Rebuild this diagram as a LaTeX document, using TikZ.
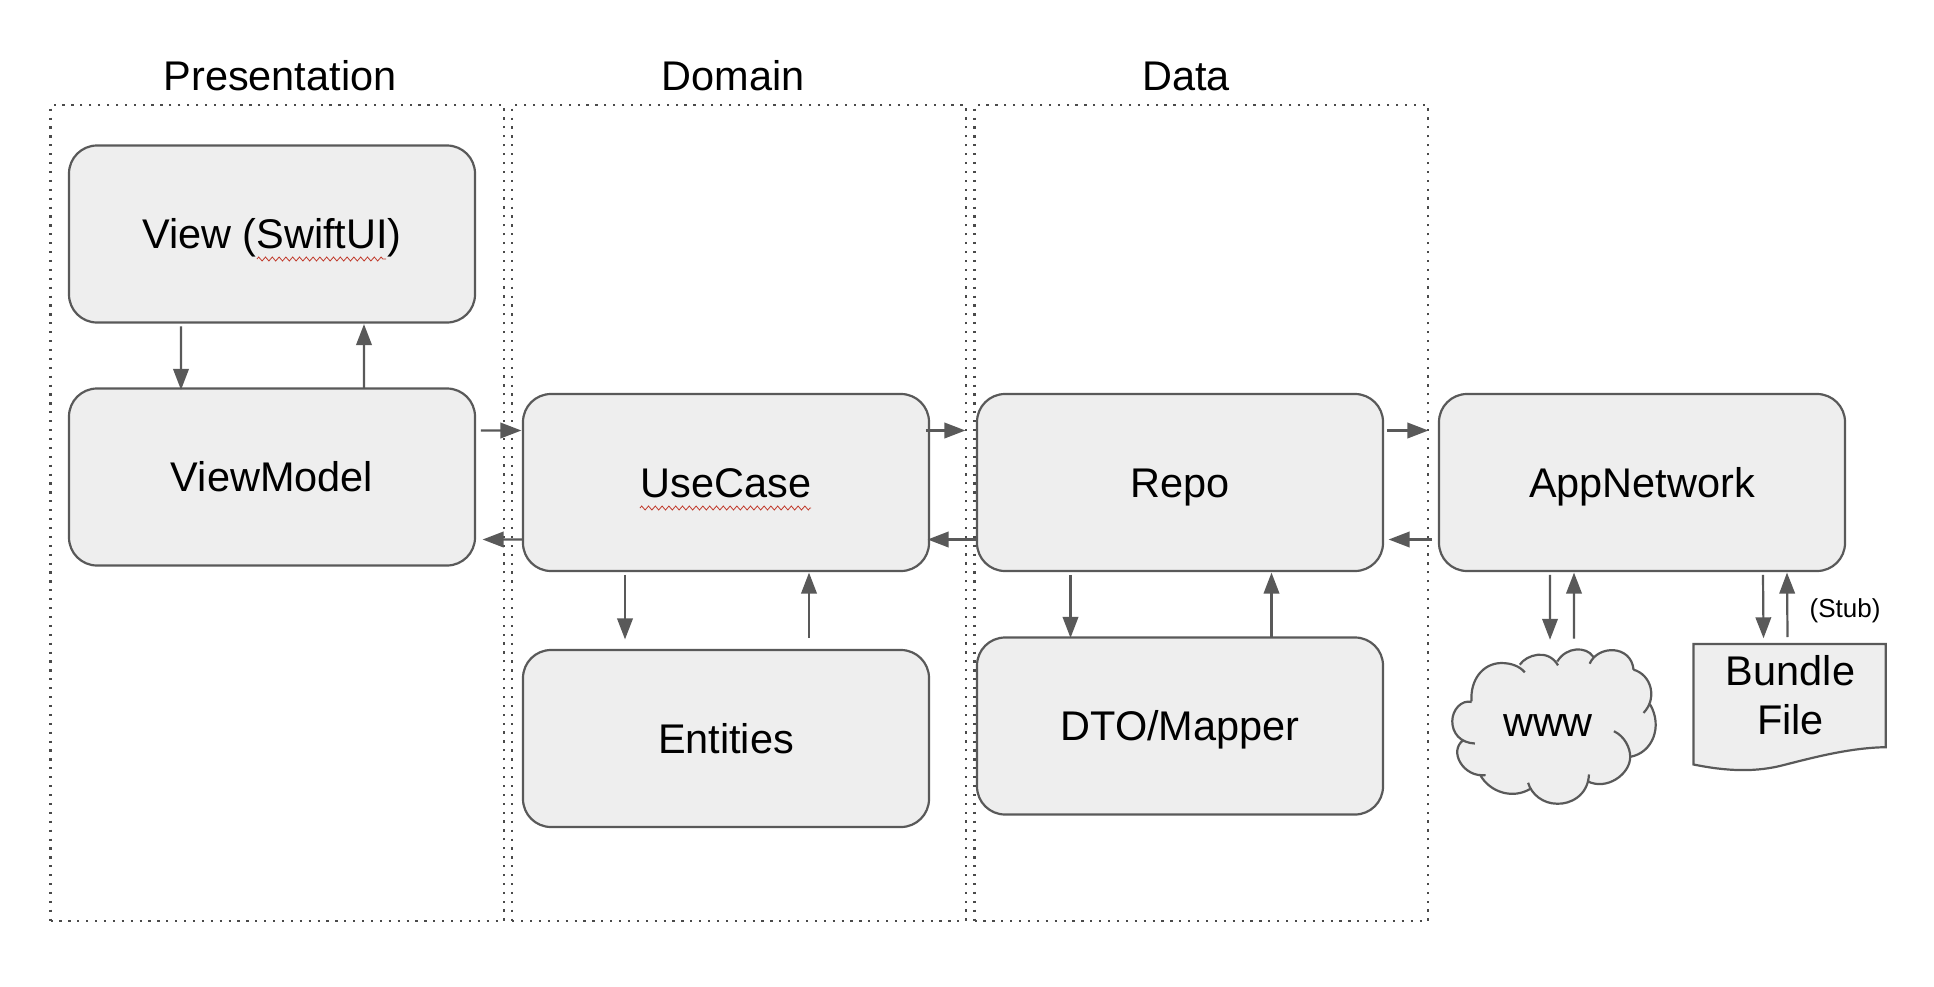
\documentclass[tikz,border=0pt]{standalone}
\usepackage{fontspec}
\setmainfont{Liberation Sans}
\usepackage{xcolor}
\usetikzlibrary{arrows.meta,decorations.pathmorphing}
\definecolor{boxFill}{HTML}{EEEEEE}
\definecolor{boxLine}{HTML}{595959}
\definecolor{dotLine}{HTML}{4A4A4A}
\definecolor{spellRed}{HTML}{C0392B}
\tikzset{
  layer/.style={draw=dotLine, line width=0.022cm, dash pattern=on 0.022cm off 0.067cm, minimum width=4.535cm, minimum height=8.16cm},
  title/.style={font=\bodysize, text height=0.29cm, text depth=0pt, inner sep=0pt},
  block/.style={draw=boxLine, line width=0.022cm, rounded corners=0.28cm, fill=boxFill, minimum width=4.06cm, minimum height=1.77cm, font=\bodysize, text height=0.29cm, text depth=0pt, inner sep=0pt},
  shapeline/.style={draw=boxLine, line width=0.022cm},
  flow/.style={-{Triangle[length=2.1mm,width=1.55mm]}, draw=boxLine, fill=boxLine, line width=0.022cm, shorten >=-0.025cm, shorten <=-0.012cm},
  spell/.style={draw=spellRed, line width=0.008cm, decorate, decoration={zigzag, segment length=0.068cm, amplitude=0.02cm}}
}
\newcommand{\bodysize}{\fontsize{11.8pt}{13.9pt}\selectfont}
\newcommand{\cloudlobes}{
  (155,545) .. controls (150,480) and (190,430) .. (245,430) .. controls (275,430) and (300,440) .. (315,458)
  (300,435) .. controls (320,405) and (385,385) .. (415,437)
  (413,425) .. controls (440,380) and (500,380) .. (520,410)
  (510,432) .. controls (535,375) and (635,375) .. (642,450)
  (642,450) .. controls (695,465) and (715,535) .. (672,580)
  (692,555) .. controls (730,620) and (700,700) .. (632,712)
  (583,635) .. controls (615,650) and (632,685) .. (632,712) .. controls (632,765) and (560,815) .. (503,785)
  (508,765) .. controls (505,830) and (450,855) .. (412,853) .. controls (370,853) and (335,825) .. (325,790)
  (332,808) .. controls (280,840) and (210,820) .. (180,765)
  (197,767) .. controls (130,775) and (85,695) .. (130,662)
  (165,672) .. controls (120,670) and (97,640) .. (97,605) .. controls (97,570) and (125,540) .. (155,547)
}
\begin{document}
\begin{tikzpicture}[x=1cm,y=1cm]
  \useasboundingbox (0,0) rectangle (19.34,9.86);

  % layers
  \node[title] (presentationTitle) at (2.80,9.10) {Presentation};
  \node[title] (domainTitle) at (7.33,9.10) {Domain};
  \node[title] (dataTitle) at (11.86,9.10) {Data};
  \node[layer] (presentation) at (2.7725,4.73) {};
  \node[layer] (domain) at (7.39,4.73) {};
  \node[layer] (data) at (12.0125,4.73) {};

  \node[block] (view) at (2.72,7.52) {View (SwiftUI)};
  \node[block] (viewModel) at (2.72,5.09) {ViewModel};
  \node[block] (useCase) at (7.26,5.035) {UseCase};
  \node[block] (entities) at (7.26,2.475) {Entities};
  \node[block] (repo) at (11.80,5.035) {Repo};
  \node[block] (dtoMapper) at (11.80,2.60) {DTO/Mapper};
  \node[block] (appNetwork) at (16.42,5.035) {AppNetwork};

  % spell check marks
  \draw[spell] (2.57,7.27) -- (3.86,7.27);
  \draw[spell] (6.40,4.78) -- (8.11,4.78);

  % cloud and file outlines
  \begin{scope}[shift={(14.20,4.66)}, x=0.003333cm, y=-0.003333cm]
    \filldraw[boxFill, line width=0.012cm] (155,545) -- (315,458) -- (300,435) -- (415,437) -- (413,425) -- (520,410) -- (510,432) -- (642,450) -- (672,580) -- (692,555) -- (632,712) -- (503,785) -- (508,765) -- (325,790) -- (332,808) -- (180,765) -- (197,767) -- (130,662) -- (165,672) -- cycle;
    \fill[boxFill] \cloudlobes;
    \draw[shapeline] \cloudlobes;
    \draw[shapeline, fill=boxFill] (822,373) -- (1400,373) -- (1400,683) .. controls (1290,685) and (1180,715) .. (1100,735) .. controls (1010,760) and (920,755) .. (822,735) -- cycle;
  \end{scope}
  \node[font=\bodysize, text height=0.21cm, text depth=0pt, inner sep=0pt, minimum height=1.76cm] (www) at (15.48,2.60) {www};
  \node[font=\bodysize, align=center, inner sep=0pt, minimum height=1.06cm] (bundleFile) at (17.905,2.905) {Bundle\\File};
  \node[font=\fontsize{7.4pt}{9pt}\selectfont, inner sep=0pt] (stub) at (18.45,3.75) {(Stub)};

  \draw[flow] ([shift={(-0.91,-0.04)}]view.south) -- ([xshift=-0.91cm]viewModel.north);
  \draw[flow] ([xshift=0.92cm]viewModel.north) -- ([shift={(0.92,-0.03)}]view.south);
  \draw[flow] ([shift={(0.06,0.465)}]viewModel.east) -- ([shift={(-0.03,0.52)}]useCase.west);
  \draw[flow] ([yshift=-0.57cm]useCase.west) -- ([shift={(0.09,-0.625)}]viewModel.east);
  \draw[flow] ([shift={(-1.01,-0.04)}]useCase.south) -- ([shift={(-1.01,0.12)}]entities.north);
  \draw[flow] ([shift={(0.83,0.12)}]entities.north) -- ([shift={(0.83,-0.03)}]useCase.south);
  \draw[flow] ([shift={(-0.03,0.52)}]useCase.east) -- ([shift={(-0.13,0.52)}]repo.west);
  \draw[flow] ([yshift=-0.57cm]repo.west) -- ([yshift=-0.57cm]useCase.east);
  \draw[flow] ([shift={(-1.095,-0.04)}]repo.south) -- ([shift={(-1.095,0.01)}]dtoMapper.north);
  \draw[flow] ([shift={(0.915,0.01)}]dtoMapper.north) -- ([shift={(0.915,-0.03)}]repo.south);
  \draw[flow] ([shift={(0.04,0.52)}]repo.east) -- ([shift={(-0.12,0.52)}]appNetwork.west);
  \draw[flow] ([shift={(-0.07,-0.57)}]appNetwork.west) -- ([shift={(0.07,-0.57)}]repo.east);
  \draw[flow] ([shift={(-0.92,-0.04)}]appNetwork.south) -- ([xshift=0.02cm]www.north);
  \draw[flow] ([xshift=0.26cm]www.north) -- ([shift={(-0.68,-0.03)}]appNetwork.south);
  \draw[flow] ([shift={(1.21,-0.04)}]appNetwork.south) -- ([shift={(-0.27,0.06)}]bundleFile.north);
  \draw[flow] ([shift={(-0.03,0.06)}]bundleFile.north) -- ([shift={(1.45,-0.03)}]appNetwork.south);
\end{tikzpicture}
\end{document}
